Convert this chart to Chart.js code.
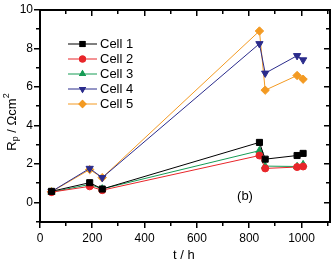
<!DOCTYPE html>
<html><head><meta charset="utf-8">
<script src="https://cdn.jsdelivr.net/npm/chart.js@4.4.0/dist/chart.umd.min.js"></script>
<style>html,body{margin:0;padding:0;background:#fff}#wrap{width:333px;height:268px}</style>
</head><body><div id="wrap"><canvas id="c" width="333" height="268"></canvas></div>
<script>
const times = [44, 190, 238, 839, 861, 983, 1006];
const cell1 = [0.59, 1.04, 0.71, 3.13, 2.26, 2.45, 2.56];
const cell2 = [0.55, 0.85, 0.65, 2.45, 1.78, 1.85, 1.88];
const cell3 = [0.55, 0.95, 0.72, 2.70, 1.90, 1.88, 1.98];
const cell4 = [0.58, 1.78, 1.30, 8.25, 6.72, 7.63, 7.41];
const cell5 = [0.57, 1.72, 1.30, 8.91, 5.84, 6.60, 6.41];
const seriesNames = ['Cell 1','Cell 2','Cell 3','Cell 4','Cell 5'];
const xTickLabels = [0, 200, 400, 600, 800, 1000];
const yTickLabels = [0, 2, 4, 6, 8, 10];
const xMinorTicks = [100, 300, 500, 700, 900, 1100];
const yMinorTicks = [-1, 1, 3, 5, 7, 9];

const colors = ['#000000','#e8262a','#169c55','#2b2c8c','#f39a22'];
const styles = [
  {pointStyle:'rect', radius:4.3, rotation:0},
  {pointStyle:'circle', radius:3.5, rotation:0},
  {pointStyle:'triangle', radius:4.2, rotation:0},
  {pointStyle:'triangle', radius:4.2, rotation:180},
  {pointStyle:'rectRot', radius:4.2, rotation:0}
];
const allData = [cell1, cell2, cell3, cell4, cell5];
const datasets = allData.map((d,i)=>({
  label: seriesNames[i],
  data: d.map((v,j)=>({x:times[j], y:v})),
  borderColor: colors[i], backgroundColor: colors[i],
  borderWidth: 1, pointStyle: styles[i].pointStyle, pointRadius: styles[i].radius,
  pointRotation: styles[i].rotation, pointBorderWidth: 1, pointBorderColor: colors[i], pointBackgroundColor: colors[i],
  tension: 0
}));
const FONT = 'Liberation Sans, Arial, sans-serif';
const xAll = xTickLabels.concat(xMinorTicks).sort((a,b)=>a-b);
const yAll = yTickLabels.concat(yMinorTicks).sort((a,b)=>a-b);

const frame = {
  id:'frame',
  afterDraw(chart){
    const ctx = chart.ctx, a = chart.chartArea;
    const xs = chart.scales.x, ys = chart.scales.y;
    ctx.save();
    ctx.setTransform(1,0,0,1,0,0);
    ctx.globalAlpha = 1;
    ctx.globalCompositeOperation = 'source-over';
    ctx.setLineDash([]);
    ctx.fillStyle = 'rgb(0,0,0)';
    const L = 39, R = 329, T = 9, B = 221;
    ctx.fillRect(L, T, R-L+2, 2);
    ctx.fillRect(L, B, R-L+2, 2);
    ctx.fillRect(L, T, 2, B-T+2);
    ctx.fillRect(R, T, 2, B-T+2);
    xAll.forEach(v=>{
      const px = Math.round(xs.getPixelForValue(v));
      const len = xTickLabels.includes(v)?5:3;
      ctx.fillRect(px-1, B+2, 1.5, len);
      ctx.fillRect(px-1, T+2, 1.5, len);
    });
    yAll.forEach(v=>{
      const py = Math.round(ys.getPixelForValue(v));
      const len = yTickLabels.includes(v)?5:3;
      ctx.fillRect(L-len, py-1, len, 1.5);
      ctx.fillRect(R-len, py-1, len, 1.5);
    });
    ctx.restore();
  }
};

const annot = {
  id:'annot',
  afterDraw(chart){
    const ctx = chart.ctx, a = chart.chartArea;
    ctx.save();
    const lx0 = 68, lx1 = 97, ly0 = 44, dy = 15;
    datasets.forEach((ds,i)=>{
      const y = ly0 + i*dy;
      ctx.strokeStyle = ds.borderColor; ctx.lineWidth = 1;
      ctx.beginPath(); ctx.moveTo(lx0,y); ctx.lineTo(lx1,y); ctx.stroke();
      ctx.fillStyle = ds.borderColor;
      Chart.helpers.drawPoint(ctx, {pointStyle: ds.pointStyle, radius: ds.pointRadius, rotation: ds.pointRotation, borderWidth:0}, (lx0+lx1)/2, y);
      ctx.fill();
      ctx.fillStyle = '#000'; ctx.font = '13px '+FONT; ctx.textBaseline='middle'; ctx.textAlign='left';
      ctx.fillText(ds.label, 100, y+0.5);
    });
    ctx.fillStyle='#000'; ctx.font='13px '+FONT; ctx.textAlign='center'; ctx.textBaseline='middle';
    ctx.fillText('(b)', 245, 196);
    ctx.fillText('t / h', (a.left+a.right)/2, 255);
    ctx.translate(12, 122); ctx.rotate(-Math.PI/2);
    ctx.textAlign='left'; ctx.textBaseline='middle';
    const parts = [['R',13,0],['p',9,4],[' / Ωcm',13,0],['2',9,-5]];
    let w=0; parts.forEach(p=>{ctx.font=p[1]+'px '+FONT; w+=ctx.measureText(p[0]).width;});
    let x=-w/2;
    parts.forEach(p=>{ctx.font=p[1]+'px '+FONT; ctx.fillText(p[0], x, p[2]); x+=ctx.measureText(p[0]).width;});
    ctx.restore();
  }
};

new Chart(document.getElementById('c'), {
  type:'line',
  data:{datasets},
  options:{
    responsive:false, animation:false, devicePixelRatio:1,
    layout:{padding:{top:10,right:3,left:0,bottom:0}},
    plugins:{legend:{display:false}, tooltip:{enabled:false}},
    scales:{
      x:{type:'linear', position:'bottom', min:0, max:1100,
        afterBuildTicks(s){ s.ticks = xTickLabels.map(v=>({value:v})).concat([{value:1100}]); },
        afterFit(s){ s.height = 46; },
        border:{display:false},
        grid:{display:true, drawOnChartArea:false, drawTicks:true, tickLength:6, color:'rgba(0,0,0,0)'},
        ticks:{font:{family:FONT,size:12}, color:'#000', padding:3, maxRotation:0, autoSkip:false,
          callback:v=>(xTickLabels.includes(v)?String(v):'')}
      },
      y:{type:'linear', position:'left', min:-1, max:10,
        afterBuildTicks(s){ s.ticks = yTickLabels.map(v=>({value:v})); },
        afterFit(s){ s.width = 40; },
        border:{display:false},
        grid:{display:true, drawOnChartArea:false, drawTicks:true, tickLength:5, color:'rgba(0,0,0,0)'},
        ticks:{font:{family:FONT,size:12}, color:'#000', padding:2, autoSkip:false,
          callback:v=>(yTickLabels.includes(v)?String(v):'')}
      }
    }
  },
  plugins:[annot, frame]
});
</script></body></html>
